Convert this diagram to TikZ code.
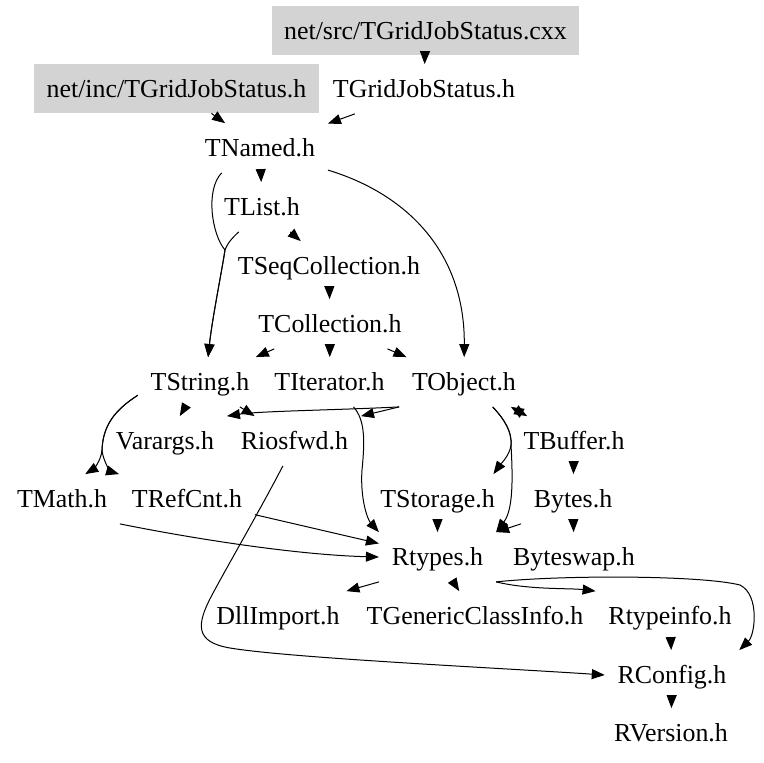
\documentclass[tikz,border=0pt]{standalone}
\usepackage{fontspec}
\setmainfont{Liberation Serif}
\usetikzlibrary{arrows.meta}
\definecolor{boxgray}{RGB}{211,211,211}
\begin{document}
\begin{tikzpicture}[x=0.5bp, y=-0.5bp, >={Triangle[length=6.5bp,width=5bp]},
	file/.style={inner xsep=6.25bp, inner ysep=0pt, minimum height=24.5bp, text height=11.5bp, text depth=3bp, font=\fontsize{13}{15}\selectfont},
	root/.style={file, fill=boxgray},
	dep/.style={->, line width=0.5bp}]
	\useasboundingbox (0,0) rectangle (764,763);
	\node[root] (src) at (425.5,30.5) {net/src/TGridJobStatus.cxx};
	\node[root] (inc) at (176.5,88.5) {net/inc/TGridJobStatus.h};
	\node[file] (gjs) at (424,89) {TGridJobStatus.h};
	\node[file] (named) at (260,148) {TNamed.h};
	\node[file] (list) at (262,207) {TList.h};
	\node[file] (seq) at (329,266) {TSeqCollection.h};
	\node[file] (coll) at (330,324) {TCollection.h};
	\node[file] (string) at (200,382) {TString.h};
	\node[file] (iter) at (329.5,382) {TIterator.h};
	\node[file] (object) at (464,382) {TObject.h};
	\node[file] (varargs) at (165,441) {Varargs.h};
	\node[file] (riosfwd) at (294.5,441) {Riosfwd.h};
	\node[file] (buffer) at (574,441) {TBuffer.h};
	\node[file] (math) at (62,499) {TMath.h};
	\node[file] (refcnt) at (187,499) {TRefCnt.h};
	\node[file] (storage) at (437.5,499) {TStorage.h};
	\node[file] (bytes) at (573,499) {Bytes.h};
	\node[file] (rtypes) at (437.5,557) {Rtypes.h};
	\node[file] (byteswap) at (574,557) {Byteswap.h};
	\node[file] (dll) at (278,616) {DllImport.h};
	\node[file] (generic) at (475,616) {TGenericClassInfo.h};
	\node[file] (rtypeinfo) at (670,616) {Rtypeinfo.h};
	\node[file] (rconfig) at (672,675) {RConfig.h};
	\node[file] (rversion) at (671,733) {RVersion.h};
	\draw[dep] (src) -- (gjs);
	\draw[dep] (inc) -- (named);
	\draw[dep] (gjs) -- (named);
	\draw[dep] (named) -- (list);
	\draw[dep] (named.-147) .. controls (205,190) and (212,235) .. (225,250) .. controls (222,270) and (212,320) .. (string.72);
	\draw[dep] (list.-133) .. controls (232,238) and (227,244) .. (225,250) .. controls (222,270) and (212,320) .. (string.72);
	\draw[dep] (named.-18) .. controls (410,195) and (465,255) .. (object);
	\draw[dep] (list) -- (seq);
	\draw[dep] (seq) -- (coll);
	\draw[dep] (coll) -- (string);
	\draw[dep] (coll) -- (iter);
	\draw[dep] (coll) -- (object);
	\draw[dep] (string) -- (varargs);
	\draw[dep] (string) -- (riosfwd);
	\draw[dep] (string.-168) .. controls (115,410) and (103,425) .. (102,450) .. controls (101,462) and (92,470) .. (math.47);
	\draw[dep] (string.-168) .. controls (115,410) and (103,425) .. (102,450) .. controls (103,462) and (112,472) .. (refcnt.north west);
	\draw[dep] (object.south west) .. controls (340,410) and (260,411) .. (varargs.north east);
	\draw[dep] (object.south west) -- (riosfwd.north east);
	\draw[dep] (iter.-46) .. controls (365,420) and (365,440) .. (362,470) .. controls (360,500) and (368,520) .. (rtypes.north west);
	\draw[dep, <->] (object.-28) -- (buffer.152);
	\draw[dep] (object.-41) .. controls (505,420) and (512,432) .. (511,445) .. controls (510,455) and (500,465) .. (storage.24);
	\draw[dep] (object.-41) .. controls (505,420) and (512,432) .. (511,445) .. controls (513,480) and (513,510) .. (rtypes.north east);
	\draw[dep] (buffer) -- (bytes);
	\draw[dep] (storage) -- (rtypes);
	\draw[dep] (bytes) -- (byteswap);
	\draw[dep] (bytes.south west) -- (rtypes.north east);
	\draw[dep] (math.south east) .. controls (200,540) and (300,555) .. (rtypes.west);
	\draw[dep] (refcnt.-13) -- (rtypes.167);
	\draw[dep] (riosfwd.-115) .. controls (260,510) and (228,565) .. (212,595) .. controls (196,625) and (195,642) .. (230,648) .. controls (290,658) and (500,668) .. (rconfig.west);
	\draw[dep] (rtypes.south west) -- (dll.20);
	\draw[dep] (rtypes) -- (generic);
	\draw[dep] (rtypes.south east) .. controls (530,590) and (570,588) .. (rtypeinfo.north west);
	\draw[dep] (rtypes.south east) .. controls (560,575) and (700,575) .. (740,585) .. controls (760,595) and (755,635) .. (rconfig.north east);
	\draw[dep] (rtypeinfo) -- (rconfig);
	\draw[dep] (rconfig) -- (rversion);
\end{tikzpicture}
\end{document}
